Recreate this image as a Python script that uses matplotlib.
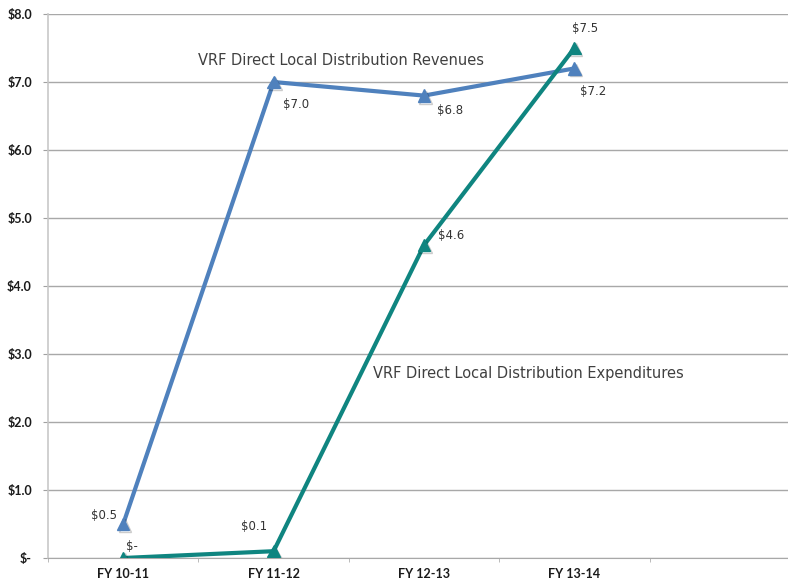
import matplotlib
matplotlib.use("Agg")
import matplotlib.pyplot as plt
import matplotlib.patheffects as pe

# Fiscal years and series values ($ millions)
years = ["FY 10-11", "FY 11-12", "FY 12-13", "FY 13-14"]
revenues = [0.5, 7.0, 6.8, 7.2]
expenditures = [0.0, 0.1, 4.6, 7.5]
y_ticks = [0, 1, 2, 3, 4, 5, 6, 7, 8]

blue = "#4f81bd"
teal = "#0f8580"
bold_font = ["Lato", "DejaVu Sans"]

fig = plt.figure(figsize=(7.88, 5.82), dpi=100)
W, H = 788, 582
left, right, top, bottom = 48, 800, 14, 558
ax = fig.add_axes([left / W, 1 - bottom / H, (right - left) / W, (bottom - top) / H])

x = list(range(len(years)))
shadow = [pe.SimpleLineShadow(offset=(1.2, -1.2), alpha=0.2, shadow_color="black"),
          pe.Normal()]
for vals, col, z in [(revenues, blue, 3), (expenditures, teal, 4)]:
    ax.plot(x, vals, color=col, lw=3, zorder=z, solid_joinstyle="miter")
    ax.plot(x, vals, ls="none", marker="^", ms=9, color=col, zorder=z,
            path_effects=shadow)

ax.set_xlim(-0.5, 4.5)
ax.set_ylim(0, 8)

def money(v):
    return "$-" if v == 0 else f"${v:.1f}"

ax.set_yticks(y_ticks)
ax.set_yticklabels([money(v) for v in y_ticks], fontweight="bold", fontsize=9,
                   color="#1a1a1a", family=bold_font)
ax.set_xticks(x)
ax.set_xticklabels(years, fontweight="bold", fontsize=9, color="#1a1a1a",
                   family=bold_font)
ax.set_xticks([i + 0.5 for i in range(-1, 5)], minor=True)
ax.tick_params(axis="x", which="major", length=0, pad=7)
ax.tick_params(axis="x", which="minor", length=3, color="#b0b0b0")
ax.tick_params(axis="y", length=3.6, color="#a0a0a0", pad=8)

ax.grid(axis="y", color="#a8a8a8", lw=1)
for s in ["top", "right"]:
    ax.spines[s].set_visible(False)
ax.spines["left"].set_color("#c8c8c8")
ax.spines["left"].set_linewidth(1.2)
ax.spines["bottom"].set_color("#a8a8a8")
ax.set_axisbelow(True)

lab = dict(fontsize=8.5, color="#333333")
# revenue data labels
rev_off = [(-13.7, 5.8), (16, -16), (18.7, -11), (13.4, -16.3)]
for xi, v, (dx, dy) in zip(x, revenues, rev_off):
    ax.annotate(money(v), (xi, v), xytext=(dx, dy), textcoords="offset points",
                ha="center", va="center", **lab)
# expenditure data labels
exp_off = [(6.5, 8), (-14, 17.5), (19.4, 7.3), (7.6, 14.4)]
for xi, v, (dx, dy) in zip(x, expenditures, exp_off):
    ax.annotate(money(v), (xi, v), xytext=(dx, dy), textcoords="offset points",
                ha="center", va="center", **lab)

ax.text(1.448, 7.32, "VRF Direct Local Distribution Revenues", fontsize=10.5,
        color="#404040", ha="center", va="center")
ax.text(1.66, 2.72, "VRF Direct Local Distribution Expenditures", fontsize=10.5,
        color="#404040", ha="left", va="center")

fig.savefig("out.png", dpi=100)
